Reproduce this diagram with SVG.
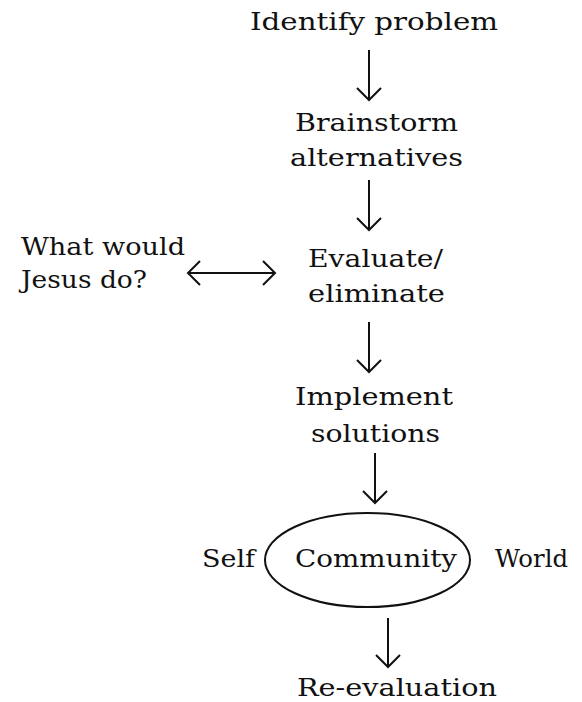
<svg xmlns="http://www.w3.org/2000/svg" width="582" height="702" viewBox="0 0 582 702">
<style>
text{font-family:"DejaVu Serif","Liberation Serif",serif;font-size:25px;fill:#111}
.c line{stroke:#111;stroke-width:2;fill:none}
</style>
<defs>
<marker id="v" viewBox="-15 -15 18 30" markerWidth="18" markerHeight="30" refX="0" refY="0" markerUnits="userSpaceOnUse" orient="auto-start-reverse">
<path d="M-12,-12 L0,0 L-12,12" fill="none" stroke="#111" stroke-width="2"/>
</marker>
</defs>
<rect width="582" height="702" fill="#fff"/>
<g id="identify"><text x="250" y="30" textLength="248" lengthAdjust="spacingAndGlyphs">Identify problem</text></g>
<g id="brainstorm"><text x="295" y="131" textLength="163" lengthAdjust="spacingAndGlyphs">Brainstorm</text><text x="290" y="166" textLength="173" lengthAdjust="spacingAndGlyphs">alternatives</text></g>
<g id="wwjd"><text x="21" y="255" textLength="164" lengthAdjust="spacingAndGlyphs">What would</text><text x="21" y="288" textLength="126" lengthAdjust="spacingAndGlyphs">Jesus do?</text></g>
<g id="evaluate"><text x="308" y="267" textLength="135" lengthAdjust="spacingAndGlyphs">Evaluate/</text><text x="308" y="302" textLength="137" lengthAdjust="spacingAndGlyphs">eliminate</text></g>
<g id="implement"><text x="295" y="405" textLength="158" lengthAdjust="spacingAndGlyphs">Implement</text><text x="311" y="442" textLength="129" lengthAdjust="spacingAndGlyphs">solutions</text></g>
<g id="self"><text x="202" y="567" textLength="53" lengthAdjust="spacingAndGlyphs">Self</text></g>
<g id="community"><ellipse cx="367.5" cy="560" rx="102.5" ry="47" fill="none" stroke="#111" stroke-width="2"/><text x="295" y="567" textLength="162" lengthAdjust="spacingAndGlyphs">Community</text></g>
<g id="world"><text x="495" y="567" textLength="73" lengthAdjust="spacingAndGlyphs">World</text></g>
<g id="reeval"><text x="297" y="696" textLength="200" lengthAdjust="spacingAndGlyphs">Re-evaluation</text></g>
<g class="c" id="connectors">
<line x1="369" y1="50" x2="369" y2="100" marker-end="url(#v)"/>
<line x1="369" y1="180" x2="369" y2="230" marker-end="url(#v)"/>
<line x1="188" y1="273" x2="275" y2="273" marker-start="url(#v)" marker-end="url(#v)"/>
<line x1="369" y1="322" x2="369" y2="372" marker-end="url(#v)"/>
<line x1="375" y1="453" x2="375" y2="503" marker-end="url(#v)"/>
<line x1="388" y1="618" x2="388" y2="667" marker-end="url(#v)"/>
</g>
</svg>
